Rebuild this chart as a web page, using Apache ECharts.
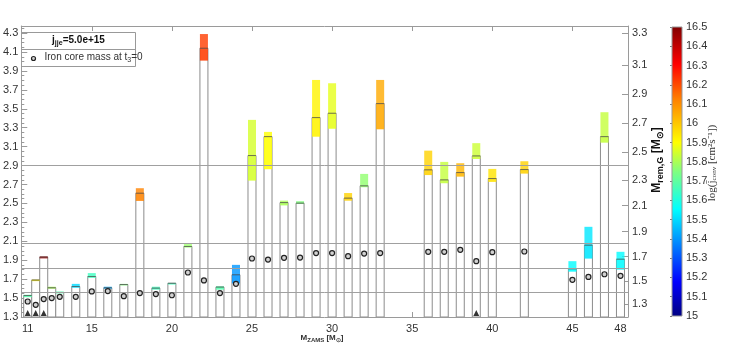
<!DOCTYPE html>
<html>
<head>
<meta charset="utf-8">
<script src="https://cdn.jsdelivr.net/npm/echarts@6/dist/echarts.min.js"></script>
<style>
html, body { margin: 0; padding: 0; background: #fff; }
#main { width: 752px; height: 355px; }
</style>
</head>
<body>
<div id="main"></div>
<script>
// models (M_ZAMS) and remnant baryonic masses
var mZams = [11, 11.5, 12, 12.5, 13, 14, 15, 16, 17, 18, 19, 20, 21, 22, 23, 24, 25, 26, 27, 28, 29, 30, 31, 32, 33, 36, 37, 38, 39, 40, 42, 45, 46, 47, 48];
var mCenter = [1.527, 1.69, 1.933, 1.609, 1.559, 1.622, 1.728, 1.609, 1.643, 2.608, 1.605, 1.656, 2.045, 4.14, 1.616, 1.746, 3.006, 3.206, 2.509, 2.503, 3.407, 3.453, 2.556, 2.686, 3.555, 2.855, 2.749, 2.826, 3.002, 2.763, 2.858, 1.809, 2.059, 3.206, 1.911];
var mLow = [1.51, 1.68, 1.92, 1.60, 1.55, 1.61, 1.714, 1.60, 1.635, 2.527, 1.59, 1.645, 2.035, 4.01, 1.59, 1.656, 2.742, 2.862, 2.48, 2.496, 3.206, 3.29, 2.53, 2.672, 3.284, 2.80, 2.714, 2.784, 2.97, 2.728, 2.816, 1.78, 1.918, 3.143, 1.801];
var mHigh = [1.535, 1.695, 1.94, 1.62, 1.57, 1.65, 1.764, 1.62, 1.65, 2.661, 1.62, 1.66, 2.07, 4.29, 1.625, 1.851, 3.383, 3.256, 2.53, 2.524, 3.805, 3.77, 2.61, 2.812, 3.805, 3.058, 2.939, 2.925, 3.137, 2.865, 2.946, 1.89, 2.253, 3.464, 1.989];
var logJconv = [15.68, 15.92, 16.45, 15.8, 15.68, 15.5, 15.65, 15.43, 15.75, 16.12, 15.65, 15.65, 15.78, 16.22, 15.68, 15.4, 15.85, 15.9, 15.8, 15.75, 15.92, 15.87, 15.98, 15.77, 16.05, 15.98, 15.83, 16.03, 15.84, 15.95, 15.98, 15.55, 15.52, 15.83, 15.55];
var ironCore = [1.464, 1.429, 1.489, 1.50, 1.513, 1.513, 1.57, 1.574, 1.52, 1.553, 1.542, 1.53, 1.77, 1.686, 1.553, 1.651, 1.918, 1.907, 1.925, 1.928, 1.975, 1.975, 1.943, 1.97, 1.975, 1.989, 1.989, 2.01, 1.89, 1.985, 1.992, 1.693, 1.724, 1.752, 1.735];
var triangleX = [11, 11.5, 12, 39];
var refLines = [1.563, 1.81, 2.075, 2.9];

// right axis: gravitational mass labels and where they sit on the baryonic scale
var rightTickG = [1.3, 1.5, 1.7, 1.9, 2.1, 2.3, 2.5, 2.7, 2.9, 3.1, 3.3];
var rightTickB = [1.44, 1.682, 1.939, 2.203, 2.478, 2.746, 3.041, 3.348, 3.654, 3.96, 4.301];
var xLabels = [11, 15, 20, 25, 30, 35, 40, 45, 48];

var yMin = 1.3, yMax = 4.375;
var jMin = 15, jMax = 16.5;
var barHalf = 0.25;

var jetStops = [[0, [0, 0, 128]], [0.12, [0, 0, 255]], [0.37, [0, 255, 255]], [0.5, [128, 255, 128]], [0.6, [255, 255, 0]], [0.75, [255, 128, 0]], [0.87, [255, 0, 0]], [1, [128, 0, 0]]];

function colorOf(v) {
	var t = (v - jMin) / (jMax - jMin);
	t = Math.max(0, Math.min(1, t));
	for (var i = 1; i < jetStops.length; i++) {
		if (t <= jetStops[i][0]) {
			var a = jetStops[i - 1], b = jetStops[i];
			var f = (t - a[0]) / (b[0] - a[0]);
			var c = [];
			for (var k = 0; k < 3; k++) {
				c.push(Math.round(a[1][k] + f * (b[1][k] - a[1][k])));
			}
			return 'rgb(' + c.join(',') + ')';
		}
	}
	return 'rgb(128,0,0)';
}

var barData = [], bandData = [], coreData = [];
for (var i = 0; i < mZams.length; i++) {
	barData.push([mZams[i], mCenter[i]]);
	bandData.push([mZams[i], mLow[i], mHigh[i], mCenter[i], logJconv[i]]);
	coreData.push([mZams[i], ironCore[i]]);
}
var triData = [];
for (var i = 0; i < triangleX.length; i++) {
	triData.push([triangleX[i], yMin]);
}

var gradStops = [];
for (var i = 0; i < jetStops.length; i++) {
	gradStops.push({ offset: jetStops[i][0], color: 'rgb(' + jetStops[i][1].join(',') + ')' });
}

var axisGray = '#9a9a9a';
var labelStyle = { color: '#333', fontSize: 11, fontFamily: 'Liberation Sans' };

var myChart = echarts.init(document.getElementById('main'));
var option = {
	animation: false,
	grid: [
		{ left: 14, top: 26, width: 614, height: 291 },
		{ left: 672, top: 27, width: 10, height: 289 }
	],
	xAxis: [
		{
			type: 'value', gridIndex: 0, position: 'bottom', min: 10.6, max: 48.47,
			axisLine: { show: true, onZero: false, lineStyle: { color: axisGray } },
			axisTick: { show: true, inside: true, length: 5, customValues: xLabels, lineStyle: { color: axisGray } },
			axisLabel: Object.assign({ customValues: xLabels, margin: 6 }, labelStyle),
			splitLine: { show: false }
		},
		{
			type: 'value', gridIndex: 0, position: 'top', min: 10.6, max: 48.47,
			axisLine: { show: true, onZero: false, lineStyle: { color: axisGray } },
			axisTick: { show: true, inside: true, length: 5, customValues: [15, 20, 25, 30, 35, 40, 45], lineStyle: { color: axisGray } },
			axisLabel: { show: false },
			splitLine: { show: false }
		},
		{ type: 'value', gridIndex: 1, min: 0, max: 1, show: false }
	],
	yAxis: [
		{
			type: 'value', gridIndex: 0, position: 'left', min: yMin, max: yMax, interval: 0.2,
			axisLine: { show: true, onZero: false, lineStyle: { color: axisGray } },
			axisTick: { show: true, inside: true, length: 6, lineStyle: { color: axisGray } },
			minorTick: { show: true, splitNumber: 4, length: 3, lineStyle: { color: axisGray } },
			axisLabel: Object.assign({ margin: 3, showMaxLabel: false, formatter: function(v) { return v.toFixed(1); } }, labelStyle),
			splitLine: { show: false }
		},
		{
			type: 'value', gridIndex: 0, position: 'right', min: yMin, max: yMax,
			axisLine: { show: true, onZero: false, lineStyle: { color: axisGray } },
			axisTick: { show: true, inside: true, length: 6, customValues: rightTickB, lineStyle: { color: axisGray } },
			axisLabel: Object.assign({
				margin: 4, customValues: rightTickB,
				formatter: function(v) {
					var best = 0;
					for (var i = 0; i < rightTickB.length; i++) {
						if (Math.abs(rightTickB[i] - v) < Math.abs(rightTickB[best] - v)) best = i;
					}
					return rightTickG[best].toFixed(1);
				}
			}, labelStyle),
			splitLine: { show: false }
		},
		{
			type: 'value', gridIndex: 1, position: 'right', min: jMin, max: jMax, interval: 0.1,
			axisLine: { show: false },
			axisTick: { show: true, inside: true, length: 2, lineStyle: { color: '#777' } },
			axisLabel: Object.assign({ margin: 4, formatter: function(v) { return String(Math.round(v * 10) / 10); } }, labelStyle),
			splitLine: { show: false }
		}
	],
	series: [
		{
			name: 'remnant', type: 'custom', xAxisIndex: 0, yAxisIndex: 0, z: 2, clip: true,
			renderItem: function(params, api) {
				var x = api.value(0), top = api.value(1);
				var p0 = api.coord([x - barHalf, top]);
				var p1 = api.coord([x + barHalf, yMin]);
				return {
					type: 'rect',
					shape: { x: p0[0], y: p0[1], width: p1[0] - p0[0], height: p1[1] - p0[1] },
					style: { fill: '#fff', stroke: '#8c8c8c', lineWidth: 1 }
				};
			},
			data: barData
		},
		{
			name: 'band', type: 'custom', xAxisIndex: 0, yAxisIndex: 0, z: 3, clip: true,
			renderItem: function(params, api) {
				var x = api.value(0), lo = api.value(1), hi = api.value(2), c = api.value(3), j = api.value(4);
				var col = colorOf(j);
				var a = api.coord([x - barHalf, hi]);
				var b = api.coord([x + barHalf, lo]);
				var m = api.coord([x + barHalf, c]);
				return {
					type: 'group',
					children: [
						{ type: 'rect', shape: { x: a[0], y: a[1], width: b[0] - a[0], height: Math.max(b[1] - a[1], 1.5) }, style: { fill: col, opacity: 0.8 } },
						{ type: 'rect', shape: { x: a[0], y: m[1], width: b[0] - a[0], height: Math.max(b[1] - m[1], 0) }, style: { fill: col, opacity: 0.35 } },
						{ type: 'line', shape: { x1: a[0], y1: m[1], x2: b[0], y2: m[1] }, style: { stroke: '#555', lineWidth: 1, opacity: 0.8 } }
					]
				};
			},
			data: bandData
		},
		{
			name: 'Iron core mass at t3=0', type: 'scatter', xAxisIndex: 0, yAxisIndex: 0, z: 5,
			symbol: 'circle', symbolSize: 5,
			itemStyle: { color: '#d2d2d2', borderColor: '#222', borderWidth: 1.2, opacity: 1 },
			data: coreData
		},
		{
			name: 'flag', type: 'scatter', xAxisIndex: 0, yAxisIndex: 0, z: 5,
			symbol: 'triangle', symbolSize: [6, 6], symbolOffset: [0, -4],
			itemStyle: { color: '#000' },
			data: triData,
			markLine: {
				silent: true, symbol: 'none', animation: false,
				label: { show: false },
				lineStyle: { color: '#a0a0a0', width: 1, type: 'solid' },
				data: refLines.map(function(v) { return { yAxis: v }; })
			}
		},
		{
			name: 'colorbar', type: 'custom', xAxisIndex: 2, yAxisIndex: 2,
			renderItem: function(params, api) {
				var p0 = api.coord([0, jMax]);
				var p1 = api.coord([1, jMin]);
				return {
					type: 'rect',
					shape: { x: p0[0], y: p0[1], width: p1[0] - p0[0], height: p1[1] - p0[1] },
					style: {
						fill: new echarts.graphic.LinearGradient(0, 1, 0, 0, gradStops),
						stroke: '#999', lineWidth: 1
					}
				};
			},
			data: [[0, jMin]]
		}
	],
	graphic: [
		{
			type: 'group', left: 19, top: 32, z: 10,
			children: [
				{ type: 'rect', shape: { x: 0, y: 0, width: 114, height: 34 }, style: { fill: '#fff', stroke: '#999', lineWidth: 1 } },
				{ type: 'line', shape: { x1: 0, y1: 17, x2: 114, y2: 17 }, style: { stroke: '#999', lineWidth: 1 } },
				{
					type: 'text', x: 57, y: 8,
					style: {
						text: '{b|j}{s|jje}{b|=5.0e+15}', align: 'center', verticalAlign: 'middle',
						rich: {
							b: { fontSize: 10, fontWeight: 'bold', fontFamily: 'Liberation Sans', fill: '#111' },
							s: { fontSize: 7, fontWeight: 'bold', fontFamily: 'Liberation Sans', fill: '#111', padding: [6, 0, 0, 0] }
						}
					}
				},
				{ type: 'circle', shape: { cx: 12, cy: 26, r: 2 }, style: { fill: '#d2d2d2', stroke: '#222', lineWidth: 1.2 } },
				{
					type: 'text', x: 23, y: 25,
					style: {
						text: '{n|Iron core mass at t}{s|3}{n|=0}', verticalAlign: 'middle',
						rich: {
							n: { fontSize: 10, fontFamily: 'Liberation Sans', fill: '#333' },
							s: { fontSize: 7, fontFamily: 'Liberation Sans', fill: '#333', padding: [6, 0, 0, 0] }
						}
					}
				}
			]
		},
		{
			type: 'text', x: 322, y: 338, z: 10,
			style: {
				text: '{n|M}{s|ZAMS}{n| [M}{s|⊙}{n|]}', align: 'center', verticalAlign: 'middle',
				rich: {
					n: { fontSize: 8, fontWeight: 'bold', fontFamily: 'Liberation Sans', fill: '#333' },
					s: { fontSize: 6, fontWeight: 'bold', fontFamily: 'Liberation Sans', fill: '#333', padding: [5, 0, 0, 0] }
				}
			}
		},
		{
			type: 'text', x: 657, y: 160, rotation: Math.PI / 2, z: 10,
			style: {
				text: '{n|M}{s|rem,G}{n| [M}{s|⊙}{n|]}', align: 'center', verticalAlign: 'middle',
				rich: {
					n: { fontSize: 12, fontWeight: 'bold', fontFamily: 'Liberation Sans', fill: '#111' },
					s: { fontSize: 9, fontWeight: 'bold', fontFamily: 'Liberation Sans', fill: '#111', padding: [7, 0, 0, 0] }
				}
			}
		},
		{
			type: 'text', x: 712, y: 163, rotation: Math.PI / 2, z: 10,
			style: {
				text: '{n|log(j\u0304}{s|conv}{n| [cm²s⁻¹])}', align: 'center', verticalAlign: 'middle',
				rich: {
					n: { fontSize: 11, fontFamily: 'Liberation Serif', fill: '#333' },
					s: { fontSize: 7, fontFamily: 'Liberation Serif', fill: '#333', padding: [5, 0, 0, 0] }
				}
			}
		}
	]
};
myChart.setOption(option);
</script>
</body>
</html>
